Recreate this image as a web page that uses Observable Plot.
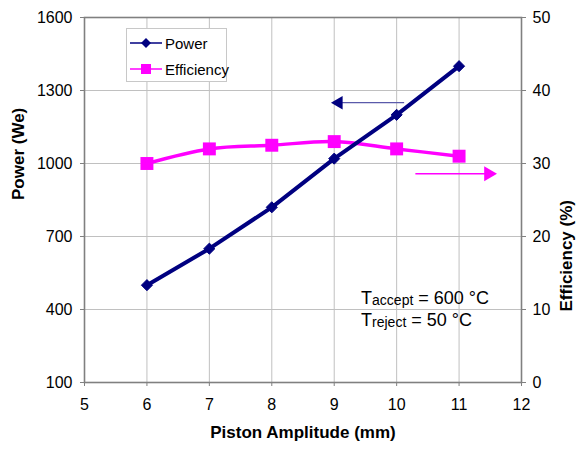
<!DOCTYPE html>
<html><head><meta charset="utf-8">
<script src="https://cdn.jsdelivr.net/npm/d3@7"></script>
<script src="https://cdn.jsdelivr.net/npm/@observablehq/plot@0.6"></script>
<style>
body{margin:0;background:#fff;font-family:"Liberation Sans",Arial,sans-serif;}
#wrap{position:relative;width:579px;height:449px;}
#legend{position:absolute;left:126px;top:28px;width:101px;height:54px;border:1px solid #c8c8c8;background:#fff;font-size:15px;color:#000;box-sizing:border-box;}
#legend .row{position:absolute;left:3px;height:20px;display:flex;align-items:center;}
#legend svg{margin-right:3px;}
</style></head>
<body><div id="wrap"><div id="chart"></div><div id="legend"></div></div>
<script>
const amplitude = [6, 7, 8, 9, 10, 11];
const power = [500, 650, 820, 1020, 1200, 1400];
const efficiency = [30, 32, 32.5, 33, 32, 31];
const powerTicks = [100, 400, 700, 1000, 1300, 1600];
const effTicks = [0, 10, 20, 30, 40, 50];
const xTicks = [5, 6, 7, 8, 9, 10, 11, 12];
const seriesNames = ["Power", "Efficiency"];
const seriesColors = ["#000080", "#FF00FF"];
const arrowColors = ["#5a5aaa", "#FF00FF"];
const arrowHeadColors = ["#000080", "#FF00FF"];
const annotSubs = ["accept", "reject"];
const annotValues = ["= 600 °C", "= 50 °C"];
const annotPos = [{x: 9.43, y: 447}, {x: 9.43, y: 355}];
const arrows = [
  {x1: 10.12, x2: 9.0, y: 1250, color: arrowColors[0], head: arrowHeadColors[0], w: 1.4, dir: -1, r: 5},
  {x1: 10.3, x2: 11.55, y: 100 + 28.6 * 30, color: arrowColors[1], head: arrowHeadColors[1], w: 1.6, dir: 1, r: 5.5}
];

const e2p = e => 100 + e * 30;
const powerData = amplitude.map((x, i) => ({x, y: power[i]}));
const effData = amplitude.map((x, i) => ({x, y: e2p(efficiency[i])}));
const annotData = annotPos.map((p, i) => ({...p, sub: annotSubs[i], val: annotValues[i]}));

const chart = Plot.plot({
  width: 579, height: 449,
  marginLeft: 84, marginRight: 58, marginTop: 17, marginBottom: 67,
  style: {fontFamily: '"Liberation Sans", Arial, sans-serif', fontSize: "16px", color: "#000", background: "#fff"},
  x: {domain: [5, 12]},
  y: {domain: [100, 1600]},
  marks: [
    Plot.gridX(xTicks.slice(1, -1), {stroke: "#c0c0c0", strokeOpacity: 1}),
    Plot.gridY(powerTicks.slice(1, -1), {stroke: "#c0c0c0", strokeOpacity: 1}),
    Plot.frame({stroke: "#808080", strokeWidth: 1.6}),
    Plot.axisX(xTicks, {anchor: "bottom", tickSize: 4, tickPadding: 12, label: null, stroke: "#808080", fill: "#000", fontSize: 16, tickFormat: d => String(d)}),
    Plot.axisY(powerTicks, {anchor: "left", tickSize: 4, tickPadding: 8, label: null, stroke: "#808080", fontSize: 16, tickFormat: d => String(d)}),
    Plot.axisY(effTicks.map(e2p), {anchor: "right", tickSize: 4, tickPadding: 7, label: null, stroke: "#808080", fontSize: 16, tickFormat: d => String(Math.round((d - 100) / 30))}),
    Plot.text(["Power (We)"], {frameAnchor: "left", dx: -66, rotate: -90, fontWeight: "bold", fontSize: 17}),
    Plot.text(["Efficiency (%)"], {frameAnchor: "right", dx: 45, rotate: -90, fontWeight: "bold", fontSize: 17}),
    Plot.text(["Piston Amplitude (mm)"], {frameAnchor: "bottom", dy: 55, fontWeight: "bold", fontSize: 17}),
    Plot.line(effData, {x: "x", y: "y", stroke: seriesColors[1], strokeWidth: 3.5, curve: "catmull-rom"}),
    Plot.line(powerData, {x: "x", y: "y", stroke: seriesColors[0], strokeWidth: 4}),
    Plot.dot(effData, {x: "x", y: "y", symbol: "square", fill: seriesColors[1], r: 7.3, stroke: "none"}),
    Plot.dot(powerData, {x: "x", y: "y", symbol: "diamond2", fill: seriesColors[0], r: 5, stroke: seriesColors[0], strokeWidth: 1}),
    ...arrows.map(a => Plot.link([a], {x1: "x1", x2: "x2", y1: "y", y2: "y", stroke: a.color, strokeWidth: a.w})),
    ...arrows.map(a => Plot.dot([a], {x: "x2", y: "y", symbol: "triangle", fill: a.head, r: a.r, rotate: a.dir * 90, dx: -a.dir * a.r * 0.9, stroke: "none"})),
    Plot.text(annotData, {x: "x", y: "y", text: d => "T" + d.sub + " " + d.val, textAnchor: "start", fontSize: 18})
  ]
});
document.getElementById("chart").appendChild(chart);

d3.select(chart).selectAll("text").each(function() {
  const t = d3.select(this);
  const item = annotData.find(a => t.text() === "T" + a.sub + " " + a.val);
  if (!item) return;
  t.text(null);
  t.append("tspan").text("T");
  t.append("tspan").attr("font-size", 14).attr("dy", 1).text(item.sub);
  t.append("tspan").attr("dy", -1).text(" " + item.val);
});

const leg = d3.select("#legend");
seriesNames.forEach((name, i) => {
  const row = leg.append("div").attr("class", "row").style("top", (i === 0 ? 4 : 30) + "px");
  const s = row.append("svg").attr("width", 32).attr("height", 16);
  s.append("line").attr("x1", 0).attr("x2", 32).attr("y1", 8).attr("y2", 8).attr("stroke", seriesColors[i]).attr("stroke-width", 1.5);
  if (i === 0) s.append("path").attr("d", "M16,3L21,8L16,13L11,8Z").attr("fill", seriesColors[i]);
  else s.append("rect").attr("x", 11).attr("y", 3).attr("width", 10).attr("height", 10).attr("fill", seriesColors[i]);
  row.append("span").text(name);
});
</script></body></html>
